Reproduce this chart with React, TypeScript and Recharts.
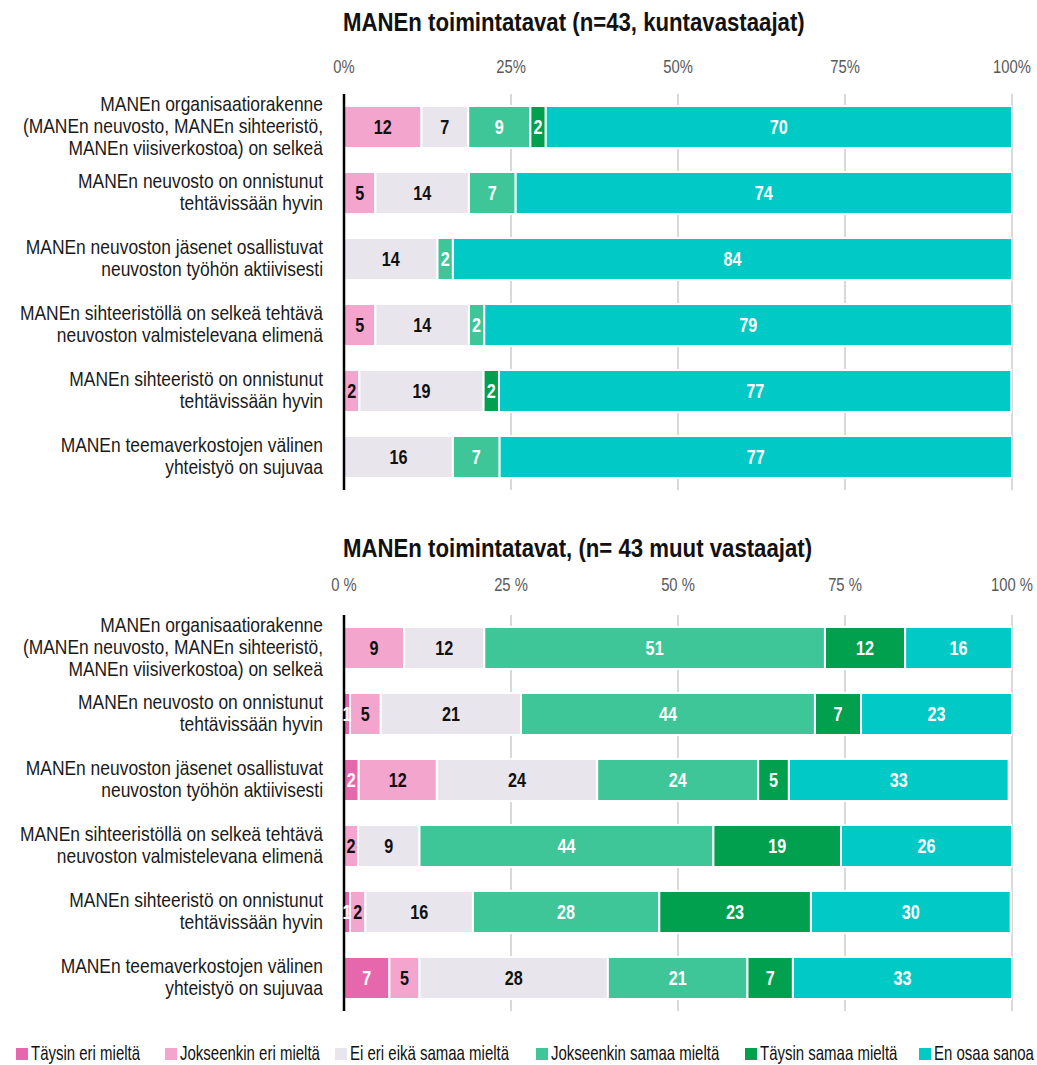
import React from 'react';
import { Bar, BarChart, CartesianGrid, LabelList, XAxis, YAxis } from 'recharts';

// no condensed face is installed, so Liberation Sans is squeezed horizontally
const FONT = '"Liberation Sans", Arial, sans-serif';

// row labels, '\n' marks the original line breaks
const categories = [
  'MANEn organisaatiorakenne\n(MANEn neuvosto, MANEn sihteeristö,\nMANEn viisiverkostoa) on selkeä',
  'MANEn neuvosto on onnistunut\ntehtävissään hyvin',
  'MANEn neuvoston jäsenet osallistuvat\nneuvoston työhön aktiivisesti',
  'MANEn sihteeristöllä on selkeä tehtävä\nneuvoston valmistelevana elimenä',
  'MANEn sihteeristö on onnistunut\ntehtävissään hyvin',
  'MANEn teemaverkostojen välinen\nyhteistyö on sujuvaa',
];

const seriesNames = [
  'Täysin eri mieltä',
  'Jokseenkin eri mieltä',
  'Ei eri eikä samaa mieltä',
  'Jokseenkin samaa mieltä',
  'Täysin samaa mieltä',
  'En osaa sanoa',
];
const seriesColors = ['#E767AC', '#F3A5CE', '#E8E6EC', '#3EC699', '#00A04F', '#00C9C6'];
const labelColors = ['#ffffff', '#111111', '#111111', '#ffffff', '#ffffff', '#ffffff'];

const xTicks = [0, 25, 50, 75, 100];

// kuntavastaajat (%), null = no answers
const kuntaTaysinEri = [null, null, null, null, null, null];
const kuntaJokseenkinEri = [11.6, 4.7, null, 4.7, 2.3, null];
const kuntaEiEriEikaSamaa = [7.0, 14.0, 14.0, 14.0, 18.6, 16.3];
const kuntaJokseenkinSamaa = [9.3, 7.0, 2.3, 2.3, null, 7.0];
const kuntaTaysinSamaa = [2.3, null, null, null, 2.3, null];
const kuntaEnOsaa = [69.8, 74.4, 83.7, 79.1, 76.7, 76.7];

// muut vastaajat (%)
const muutTaysinEri = [null, 0.9, 2.2, null, 0.9, 6.8];
const muutJokseenkinEri = [9.0, 4.6, 11.7, 2.1, 2.3, 4.5];
const muutEiEriEikaSamaa = [12.0, 21.0, 24.0, 9.2, 16.1, 28.2];
const muutJokseenkinSamaa = [51.0, 44.0, 24.1, 44.0, 27.9, 20.9];
const muutTaysinSamaa = [12.0, 6.9, 4.6, 19.1, 22.7, 6.8];
const muutEnOsaa = [16.0, 22.6, 32.9, 25.8, 29.9, 32.8];

type Series = (number | null)[];

function buildRows(series: Series[]) {
  return categories.map((category, i) => {
    const row: Record<string, string | number | null> = { category };
    series.forEach((s, k) => {
      row[`s${k}`] = s[i];
    });
    return row;
  });
}

const kuntaRows = buildRows([
  kuntaTaysinEri,
  kuntaJokseenkinEri,
  kuntaEiEriEikaSamaa,
  kuntaJokseenkinSamaa,
  kuntaTaysinSamaa,
  kuntaEnOsaa,
]);
const muutRows = buildRows([
  muutTaysinEri,
  muutJokseenkinEri,
  muutEiEriEikaSamaa,
  muutJokseenkinSamaa,
  muutTaysinSamaa,
  muutEnOsaa,
]);

function CategoryTick({ x, y, payload }: any) {
  const lines = String(payload.value).split('\n');
  const lineHeight = 22.5;
  const first = -((lines.length - 1) * lineHeight) / 2 + 6;
  return (
    <g transform={`translate(${x},${y}) scale(0.85,1)`}>
      <text x={0} y={0} textAnchor="end" fontFamily={FONT} fontSize={20.5} fill="#1a1a1a">
        {lines.map((line, i) => (
          <tspan key={i} x={0} dy={i === 0 ? first : lineHeight}>
            {line}
          </tspan>
        ))}
      </text>
    </g>
  );
}

function makePercentTick(suffix: string) {
  return function PercentTick({ x, y, payload }: any) {
    return (
      <g transform={`translate(${x},${y}) scale(0.8,1)`}>
        <text x={0} y={0} textAnchor="middle" fontFamily={FONT} fontSize={18.5} fill="#595959">
          {`${payload.value}${suffix}`}
        </text>
      </g>
    );
  };
}

function makeValueLabel(color: string) {
  return function ValueLabel({ x, y, width, height, value }: any) {
    if (value === null || value === undefined || value === '') return null;
    const cx = Number(x) + Number(width) / 2;
    const cy = Number(y) + Number(height) / 2;
    return (
      <g transform={`translate(${cx},${cy}) scale(0.81,1)`}>
        <text x={0} y={7} textAnchor="middle" fontFamily={FONT} fontWeight="bold" fontSize={20} fill={color}>
          {Math.round(Number(value))}
        </text>
      </g>
    );
  };
}

const valueLabels = labelColors.map((c) => makeValueLabel(c));

type PanelProps = {
  top: number;
  title: string;
  rows: Record<string, string | number | null>[];
  suffix: string;
  tickMargin: number;
  titleY: number;
};

function Panel({ top, title, rows, suffix, tickMargin, titleY }: PanelProps) {
  const Tick = makePercentTick(suffix);
  return (
    <div style={{ position: 'absolute', left: 0, top, width: 1037, height: 500 }}>
      <div
        style={{
          position: 'absolute',
          left: 343,
          top: titleY - 15,
          fontFamily: FONT,
          fontWeight: 'bold',
          fontSize: 25.5,
          lineHeight: '30px',
          color: '#111',
          whiteSpace: 'nowrap',
          transform: 'scaleX(0.87)',
          transformOrigin: 'left center',
        }}
      >
        {title}
      </div>
      <BarChart
        width={1037}
        height={495}
        data={rows}
        layout="vertical"
        margin={{ top: 54, right: 25, bottom: 5, left: 0 }}
        barSize={42}
      >
        <CartesianGrid horizontal={false} stroke="#d9d9d9" strokeWidth={2} />
        <XAxis
          type="number"
          orientation="top"
          domain={[0, 100]}
          ticks={xTicks}
          height={40}
          axisLine={false}
          tickLine={false}
          tickSize={0}
          tickMargin={tickMargin}
          tick={<Tick />}
          allowDataOverflow
        />
        <YAxis
          type="category"
          dataKey="category"
          width={344}
          tickLine={false}
          tickSize={0}
          tickMargin={21}
          axisLine={{ stroke: '#000', strokeWidth: 2.5 }}
          tick={<CategoryTick />}
          interval={0}
        />
        {seriesNames.map((name, k) => {
          const Label = valueLabels[k];
          return (
            <Bar
              key={name}
              dataKey={`s${k}`}
              name={name}
              stackId="a"
              fill={seriesColors[k]}
              stroke="#ffffff"
              strokeWidth={2}
              isAnimationActive={false}
            >
              <LabelList dataKey={`s${k}`} content={<Label />} />
            </Bar>
          );
        })}
      </BarChart>
    </div>
  );
}

const legendX = [16, 165, 335, 536, 745, 919];

function Legend() {
  return (
    <svg width={1037} height={50} style={{ position: 'absolute', left: 0, top: 1015 }}>
      {seriesNames.map((name, k) => (
        <g key={name}>
          <rect x={legendX[k]} y={33} width={12} height={12} fill={seriesColors[k]} />
          <g transform={`translate(${legendX[k] + 15},45) scale(0.75,1)`}>
            <text x={0} y={0} fontFamily={FONT} fontSize={20} fill="#111">
              {name}
            </text>
          </g>
        </g>
      ))}
    </svg>
  );
}

export default function App() {
  return (
    <div style={{ position: 'absolute', left: 0, top: 0, width: 1037, height: 1065, background: '#fff' }}>
      <Panel
        top={0}
        title="MANEn toimintatavat (n=43, kuntavastaajat)"
        rows={kuntaRows}
        suffix="%"
        tickMargin={21}
        titleY={22}
      />
      <Panel
        top={521}
        title="MANEn toimintatavat, (n= 43 muut vastaajat)"
        rows={muutRows}
        suffix=" %"
        tickMargin={24}
        titleY={27}
      />
      <Legend />
    </div>
  );
}
